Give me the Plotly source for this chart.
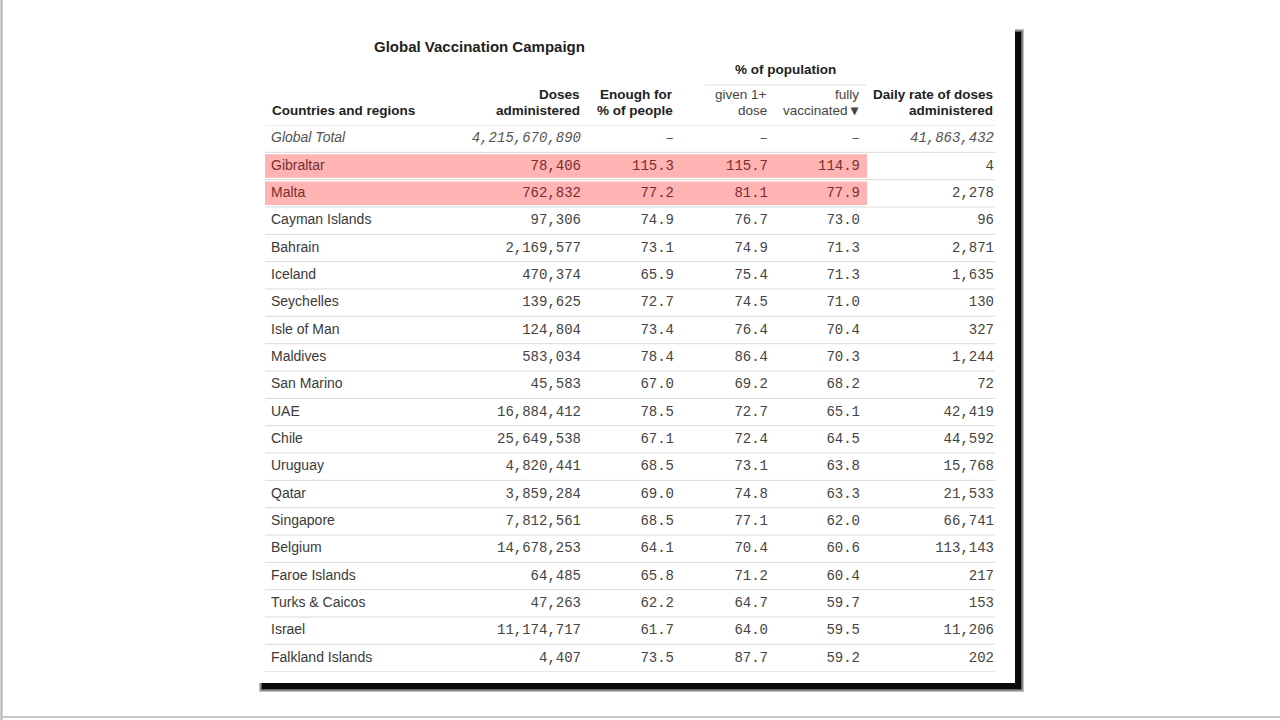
import plotly.graph_objects as go

# ---------------- data ----------------
regions = ["Global Total", "Gibraltar", "Malta", "Cayman Islands", "Bahrain", "Iceland",
           "Seychelles", "Isle of Man", "Maldives", "San Marino", "UAE", "Chile", "Uruguay",
           "Qatar", "Singapore", "Belgium", "Faroe Islands", "Turks & Caicos", "Israel",
           "Falkland Islands"]
doses = [4215670890, 78406, 762832, 97306, 2169577, 470374, 139625, 124804, 583034, 45583,
         16884412, 25649538, 4820441, 3859284, 7812561, 14678253, 64485, 47263, 11174717, 4407]
enough_pct = [None, 115.3, 77.2, 74.9, 73.1, 65.9, 72.7, 73.4, 78.4, 67.0, 78.5, 67.1, 68.5,
              69.0, 68.5, 64.1, 65.8, 62.2, 61.7, 73.5]
given_1_dose = [None, 115.7, 81.1, 76.7, 74.9, 75.4, 74.5, 76.4, 86.4, 69.2, 72.7, 72.4, 73.1,
                74.8, 77.1, 70.4, 71.2, 64.7, 64.0, 87.7]
fully_vacc = [None, 114.9, 77.9, 73.0, 71.3, 71.3, 71.0, 70.4, 70.3, 68.2, 65.1, 64.5, 63.8,
              63.3, 62.0, 60.6, 60.4, 59.7, 59.5, 59.2]
daily_rate = [41863432, 4, 2278, 96, 2871, 1635, 130, 327, 1244, 72, 42419, 44592, 15768,
              21533, 66741, 113143, 217, 153, 11206, 202]
highlighted = ["Gibraltar", "Malta"]
total_label = "Global Total"

title_text = "Global Vaccination Campaign"
group_header = "% of population"
headers_l1 = ["", "<b>Doses</b>", "<b>Enough for</b>", "given 1+", "fully", "<b>Daily rate of doses</b>"]
headers_l2 = ["<b>Countries and regions</b>", "<b>administered</b>", "<b>% of people</b>", "dose",
              "vaccinated <b>▾</b>", "<b>administered</b>"]

# ---------------- style / layout ----------------
W, H = 1280, 720
SANS = "Liberation Sans, Arial, sans-serif"
MONO = "Liberation Mono, Courier New, monospace"
COL_X = [271, 581, 674, 768, 860, 994]       # left edge of col 0, right edges of others
ROW_TOP, ROW_BOTTOM = 125, 671.7              # pixel extent of the body rows
LINE_X0, LINE_X1 = 265, 995
HIGHLIGHT_X1 = 867
PINK = "#ffb4b4"
HL_TEXT = "#7a2e2e"
TXT = "#3a3a3a"
NUM = "#444444"


def py(px):
    return 1 - px / H


n = len(regions)
rows = list(range(n))


def fmt_int(v):
    return "–" if v is None else f"{v:,}"


def fmt_pct(v):
    return "–" if v is None else f"{v:.1f}"


def italic_if_total(labels):
    return [f"<i>{t}</i>" if r == total_label else t for t, r in zip(labels, regions)]


def colors(hl=True, base=NUM):
    out = []
    for r in regions:
        if hl and r in highlighted:
            out.append(HL_TEXT)
        elif r == total_label:
            out.append("#555555")
        else:
            out.append(base)
    return out


fig = go.Figure()

# region names (left aligned)
fig.add_trace(go.Scatter(
    x=[COL_X[0]] * n, y=rows, mode="text",
    text=italic_if_total(regions), textposition="middle right",
    textfont=dict(family=SANS, size=14, color=colors(True, TXT)),
    hoverinfo="skip", showlegend=False))

columns = [
    ([fmt_int(v) for v in doses], True),
    ([fmt_pct(v) for v in enough_pct], True),
    ([fmt_pct(v) for v in given_1_dose], True),
    ([fmt_pct(v) for v in fully_vacc], True),
    ([fmt_int(v) for v in daily_rate], False),
]
for ci, (vals, hl) in enumerate(columns, start=1):
    fig.add_trace(go.Scatter(
        x=[COL_X[ci]] * n, y=rows, mode="text",
        text=italic_if_total(vals), textposition="middle left",
        textfont=dict(family=MONO, size=14, color=colors(hl)),
        hoverinfo="skip", showlegend=False))

shapes = []
# outer video frame lines
shapes.append(dict(type="line", xref="x", yref="paper", x0=1.5, x1=1.5, y0=0, y1=1,
                   line=dict(color="#b0b0b0", width=2), layer="below"))
shapes.append(dict(type="line", xref="x", yref="paper", x0=0, x1=W, y0=py(717), y1=py(717),
                   line=dict(color="#c8c8c8", width=2), layer="below"))
# drop shadow (soft)
for off, col in [(3, "rgba(0,0,0,0.25)"), (1.5, "rgba(0,0,0,0.5)"), (0, "#0a0a0a")]:
    shapes.append(dict(type="rect", xref="x", yref="paper",
                       x0=262 - off, x1=1021 + off, y0=py(689 + off), y1=py(32 - off),
                       line=dict(width=0), fillcolor=col, layer="below"))
# white card
shapes.append(dict(type="rect", xref="x", yref="paper", x0=256, x1=1015, y0=py(683), y1=py(27),
                   line=dict(width=0), fillcolor="white", layer="below"))
# header separator and row lines
for k in range(n + 1):
    shapes.append(dict(type="line", xref="x", yref="y", x0=LINE_X0, x1=LINE_X1,
                       y0=k - 0.5, y1=k - 0.5,
                       line=dict(color="#d9d9d9", width=1), layer="below"))
# group header underline
shapes.append(dict(type="line", xref="x", yref="paper", x0=705, x1=866, y0=py(85), y1=py(85),
                   line=dict(color="#e0e0e0", width=1), layer="below"))
# highlighted rows
for r in highlighted:
    i = regions.index(r)
    shapes.append(dict(type="rect", xref="x", yref="y", x0=LINE_X0, x1=HIGHLIGHT_X1,
                       y0=i - 0.43, y1=i + 0.43, line=dict(width=0), fillcolor=PINK,
                       layer="below"))

annotations = [dict(text=f"<b>{title_text}</b>", xref="x", yref="paper", x=372, y=py(46),
                    xanchor="left", yanchor="middle", showarrow=False,
                    font=dict(family=SANS, size=15, color="#222222")),
               dict(text=f"<b>{group_header}</b>", xref="x", yref="paper", x=785, y=py(70),
                    xanchor="center", yanchor="middle", showarrow=False,
                    font=dict(family=SANS, size=13.5, color="#222222"))]
for ci in range(6):
    anchor = "left" if ci == 0 else "right"
    for txt, ypx in [(headers_l1[ci], 95), (headers_l2[ci], 110)]:
        if not txt:
            continue
        bold = "<b>" in txt and not txt.startswith("vaccinated")
        annotations.append(dict(text=txt, xref="x", yref="paper", x=COL_X[ci], y=py(ypx),
                                xanchor=anchor, yanchor="middle", showarrow=False, xshift=1 if ci else -1,
                                font=dict(family=SANS, size=13.5,
                                          color="#222222" if bold else "#444444")))

fig.update_layout(
    width=W, height=H, margin=dict(l=0, r=0, t=0, b=0),
    paper_bgcolor="white", plot_bgcolor="rgba(0,0,0,0)",
    xaxis=dict(range=[0, W], domain=[0, 1], visible=False, fixedrange=True),
    yaxis=dict(range=[n - 0.5, -0.5], domain=[py(ROW_BOTTOM), py(ROW_TOP)], visible=False,
               fixedrange=True),
    shapes=shapes, annotations=annotations,
)

fig.write_html("out.html", config={"displayModeBar": False},
               post_script="document.body.style.margin='0';document.body.style.overflow='hidden';")
